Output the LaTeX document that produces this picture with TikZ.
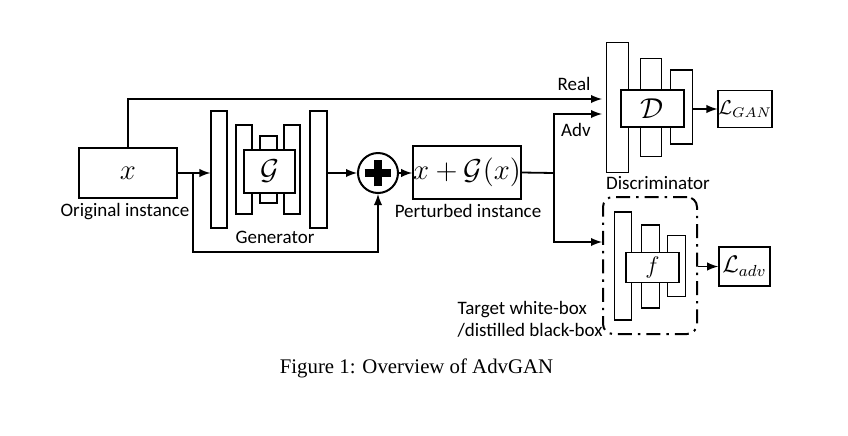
\documentclass[tikz,border=0pt]{standalone}
\usepackage{amsmath,amssymb}
\usepackage{fontspec}
\setmainfont{Carlito}
\newfontfamily\capfont{Liberation Serif}
\usepackage{tikz}
\usetikzlibrary{arrows}

\tikzset{
  layer/.style={draw, line width=0.65pt, fill=white, inner sep=0pt},
  blockbox/.style={draw, line width=0.75pt, fill=white, inner sep=0pt},
  databox/.style={draw, line width=1.1pt, inner sep=0pt},
  losbox/.style={draw, line width=0.8pt, inner sep=0pt},
  lbl/.style={font=\fontsize{9.5}{11}\selectfont, inner sep=0pt},
  conn/.style={line width=0.9pt},
}

\begin{document}
\begin{tikzpicture}[x=0.5pt, y=-0.5pt, >=latex]
          \useasboundingbox (0,0) rectangle (848,435);
          % input
          \node[databox, minimum width=49pt, minimum height=25pt] (X) at (128,173) {\Large $x$};
          \node[lbl] (Xl) at (125,212) {Original instance};
          % generator
          \node[layer, minimum width=8pt, minimum height=58.5pt] (g1) at (219,169.5) {};
          \node[layer, minimum width=8pt, minimum height=44.5pt] (g2) at (244,169.5) {};
          \node[layer, minimum width=8.5pt, minimum height=33.5pt] (g3) at (268.5,169.5) {};
          \node[layer, minimum width=8pt, minimum height=44.5pt] (g4) at (292,169.5) {};
          \node[layer, minimum width=8.5pt, minimum height=58.5pt] (g5) at (318.5,169.5) {};
          \node[blockbox, minimum width=25.5pt, minimum height=21.5pt] (G) at (269.5,171.5) {\Large $\mathcal{G}$};
          \node[lbl] (Gl) at (275,237) {Generator};
          % sum
          \node[draw, circle, line width=1pt, minimum size=20pt, inner sep=0pt] (S) at (378,173) {};
          \draw[line width=4.2pt] ([xshift=-6.7pt]S.center) -- ([xshift=6.7pt]S.center);
          \draw[line width=4.2pt] ([yshift=-6.7pt]S.center) -- ([yshift=6.7pt]S.center);
          % perturbed
          \node[databox, minimum width=50pt, minimum height=26.5pt] (P) at (467,172.5) {\Large $x+\mathcal{G}(x)$};
          \node[lbl] (Pl) at (468,211) {Perturbed instance};
          % discriminator
          \node[layer, minimum width=10.75pt, minimum height=65.25pt] (d1) at (617.5,107.5) {};
          \node[layer, minimum width=10.75pt, minimum height=49.25pt] (d2) at (651,107.5) {};
          \node[layer, minimum width=10.75pt, minimum height=37pt] (d3) at (681.5,107) {};
          \node[blockbox, minimum width=31.5pt, minimum height=18.5pt] (D) at (652.5,108.5) {\Large $\mathcal{D}$};
          \node[lbl] (Dl) at (658,183) {Discriminator};
          \node[losbox, minimum width=26pt, minimum height=18.5pt] (LG) at (745,109) {$\mathcal{L}_{GAN}$};
          % target model
          \node[draw, line width=1pt, rounded corners=5pt, dash pattern=on 7pt off 3pt on 1.2pt off 3pt,
                minimum width=47pt, minimum height=68.5pt] (T) at (650,265.5) {};
          \node[layer, minimum width=8.75pt, minimum height=54pt] (t1) at (623,266) {};
          \node[layer, minimum width=8.75pt, minimum height=41.5pt] (t2) at (650.5,266.5) {};
          \node[layer, minimum width=8.75pt, minimum height=30.5pt] (t3) at (676.5,266) {};
          \node[blockbox, minimum width=26.5pt, minimum height=15pt] (F) at (652.5,267.3) {\large $f$};
          \node[lbl, align=left, anchor=east] (Tl) at (603,319) {Target white-box\\/distilled black-box};
          \node[losbox, minimum width=25.5pt, minimum height=19.5pt] (LA) at (744.5,266.5) {\large $\mathcal{L}_{adv}$};
          % caption
          \node[font=\capfont\fontsize{10.4}{12}\selectfont, inner sep=0pt] (cap) at (416.5,368) {Figure 1: Overview of AdvGAN};
          % connectors
          \coordinate (xb) at (193,173);
          \coordinate (low) at (193,252);
          \coordinate (realin) at (602,99);
          \coordinate (split) at (554,173);
          \coordinate (advin) at (602,114);
          \coordinate (tgtin) at (602,242);
          \draw[conn,->] (X.east |- xb) -- (xb -| g1.west);
          \draw[conn,->] (xb) -- (low) -| (S.south);
          \draw[conn,->] (X.north) |- (realin);
          \node[lbl] (Rl) at (574,84) {Real};
          \draw[conn,->] (g5.east |- S.west) -- (S.west);
          \draw[conn,->] (S.east) -- (S.east -| P.west);
          \draw[conn] (P.east) -- (split);
          \draw[conn,->] (split) |- (advin);
          \node[lbl] (Al) at (576,130) {Adv};
          \draw[conn,->] (split) |- (tgtin);
          \draw[conn,->] (d3.east |- LG.west) -- (LG.west);
          \draw[conn,->] (T.east |- LA.west) -- (LA.west);
        \end{tikzpicture}
\end{document}
